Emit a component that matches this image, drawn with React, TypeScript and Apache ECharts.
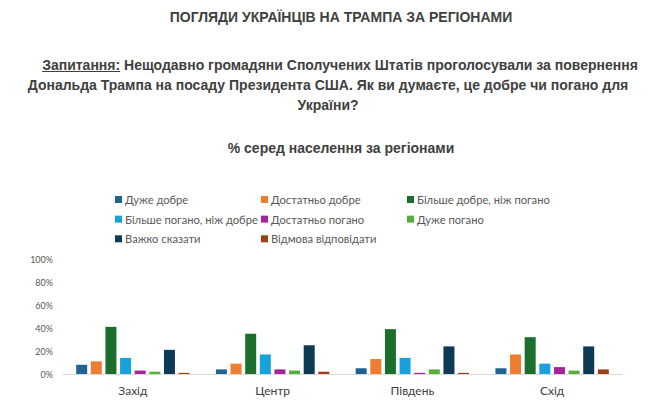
import React, { useEffect, useRef } from "react";
import * as echarts from "echarts";

const regions = ["Захід", "Центр", "Південь", "Схід"];
const seriesNames = [
  "Дуже добре",
  "Достатньо добре",
  "Більше добре, ніж погано",
  "Більше погано, ніж добре",
  "Достатньо погано",
  "Дуже погано",
  "Важко сказати",
  "Відмова відповідати",
];
const veryGood = [8, 4, 5, 5];
const ratherGood = [11, 9, 13, 17];
const moreGood = [41, 35, 39, 32];
const moreBad = [14, 17, 14, 9];
const ratherBad = [3, 4, 1, 6];
const veryBad = [2, 3, 4, 3];
const hardToSay = [21, 25, 24, 24];
const refused = [1, 2, 1, 4];
const seriesValues = [veryGood, ratherGood, moreGood, moreBad, ratherBad, veryBad, hardToSay, refused];
const colors = ["#1f6391", "#ed7d31", "#1b6e2b", "#17a2dc", "#a5249a", "#55af3a", "#0d3a54", "#9b4112"];
const yTicks = [0, 20, 40, 60, 80, 100];

const titleText = "ПОГЛЯДИ УКРАЇНЦІВ НА ТРАМПА ЗА РЕГІОНАМИ";
const qLabel = "Запитання:";
const qLine1Rest = " Нещодавно громадяни Сполучених Штатів проголосували за повернення";
const qLine2 = "Дональда Трампа на посаду Президента США. Як ви думаєте, це добре чи погано для";
const qLine3 = "України?";
const subtitleText = "% серед населення за регіонами";

export default function App() {
  const ref = useRef<HTMLDivElement>(null);
  useEffect(() => {
    document.body.style.margin = "0";
    if (!ref.current) return;
    const chart = echarts.init(ref.current, undefined, { renderer: "svg" });
    const headFont = "bold 14px 'Liberation Sans', Arial, sans-serif";
    const cv = document.createElement("canvas");
    const ctx = cv.getContext("2d")!;
    ctx.font = headFont;
    const wLabel = ctx.measureText(qLabel).width;
    const wAll = ctx.measureText(qLabel + qLine1Rest).width;
    const line1Center = 340;
    const line1Left = line1Center - wAll / 2;
    const textColor = "#404040";
    const headStyle = {
      fontFamily: "'Liberation Sans', Arial, sans-serif",
      fontWeight: "bold" as const,
      fontSize: 14,
      fill: textColor,
    };

    const legendBase = {
      orient: "vertical" as const,
      icon: "rect",
      itemWidth: 7,
      itemHeight: 7,
      itemGap: 7.65,
      top: 193.5,
      padding: 0,
      selectedMode: false,
      textStyle: { color: "#595959", fontSize: 11.2, fontFamily: "Lato, sans-serif", lineHeight: 12, padding: [0, 0, 0, -2] },
    };

    chart.setOption({
      animation: false,
      backgroundColor: "#ffffff",
      color: colors,
      graphic: [
        {
          type: "text",
          x: 341,
          y: 17,
          style: { ...headStyle, fontSize: 14, text: titleText, textAlign: "center", textVerticalAlign: "middle" },
        },
        {
          type: "text",
          x: line1Left,
          y: 64.5,
          style: { ...headStyle, text: qLabel + qLine1Rest, textAlign: "left", textVerticalAlign: "middle" },
        },
        {
          type: "line",
          shape: { x1: line1Left, y1: 71.5, x2: line1Left + wLabel, y2: 71.5 },
          style: { stroke: textColor, lineWidth: 1 },
        },
        {
          type: "text",
          x: 328,
          y: 85,
          style: { ...headStyle, text: qLine2, textAlign: "center", textVerticalAlign: "middle" },
        },
        {
          type: "text",
          x: 328,
          y: 104.5,
          style: { ...headStyle, text: qLine3, textAlign: "center", textVerticalAlign: "middle" },
        },
        {
          type: "text",
          x: 341,
          y: 148,
          style: { ...headStyle, text: subtitleText, textAlign: "center", textVerticalAlign: "middle" },
        },
      ],
      legend: [
        { ...legendBase, left: 115, data: [seriesNames[0], seriesNames[3], seriesNames[6]] },
        { ...legendBase, left: 261, data: [seriesNames[1], seriesNames[4], seriesNames[7]] },
        { ...legendBase, left: 407, data: [seriesNames[2], seriesNames[5]] },
      ],
      grid: { left: 63, right: 29, top: 259, bottom: 31, containLabel: false },
      xAxis: {
        type: "category",
        data: regions,
        axisLine: { lineStyle: { color: "#d9d9d9", width: 1 } },
        axisTick: { show: false },
        axisLabel: { color: "#404040", fontSize: 12, fontFamily: "Lato, sans-serif", margin: 10 },
      },
      yAxis: {
        type: "value",
        min: yTicks[0],
        max: yTicks[yTicks.length - 1],
        interval: 20,
        axisLine: { show: false },
        axisTick: { show: false },
        splitLine: { show: false },
        axisLabel: { color: "#595959", fontSize: 9, fontFamily: "Lato, sans-serif", margin: 10, formatter: "{value}%" },
      },
      series: seriesNames.map((name, i) => ({
        name,
        type: "bar",
        data: seriesValues[i],
        barWidth: 11,
        barGap: "33%",
        itemStyle: { color: colors[i] },
      })),
    });
    return () => chart.dispose();
  }, []);
  return <div ref={ref} style={{ width: 651, height: 405, background: "#fff" }} />;
}
